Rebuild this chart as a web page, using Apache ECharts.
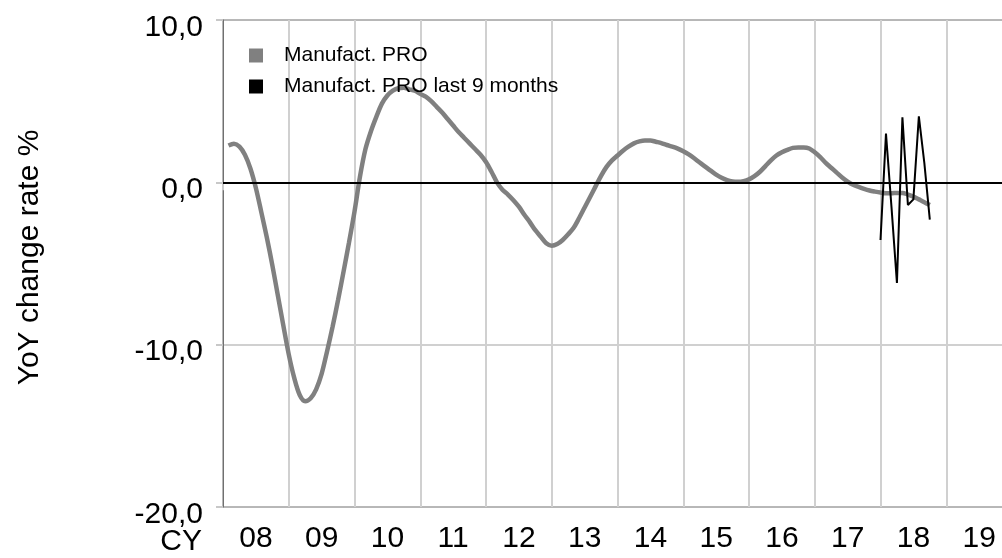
<!DOCTYPE html>
<html>
<head>
<meta charset="utf-8">
<script src="https://cdn.jsdelivr.net/npm/echarts@6/dist/echarts.min.js"></script>
<style>html,body{margin:0;padding:0;background:#fff}#c{width:1002px;height:558px}</style>
</head>
<body>
<div id="c"></div>
<script>
// Year categories for the x axis (CY)
var years = ['08','09','10','11','12','13','14','15','16','17','18','19'];
var firstYear = 2008;
// Manufact. PRO, monthly YoY %, from Feb 2008 (month index 1) to Oct 2018
var proStartMonth = 1;
var proValues = [
  2.27, 2.38, 2.2, 1.7, 0.85, -0.35, -1.85, -3.4, -5.1, -6.95, -8.8,
  -10.6, -12.05, -13.1, -13.48, -13.3, -12.75, -11.8, -10.4, -8.9, -7.25, -5.5, -3.7,
  -1.8, 0.35, 2.05, 3.15, 4.05, 4.85, 5.35, 5.65, 5.8, 5.82, 5.73, 5.65,
  5.45, 5.28, 5.0, 4.65, 4.3, 3.9, 3.5, 3.1, 2.75, 2.4, 2.05, 1.7,
  1.25, 0.65, 0.0, -0.45, -0.75, -1.1, -1.5, -2.0, -2.45, -2.95, -3.35, -3.75,
  -3.9, -3.8, -3.55, -3.2, -2.8, -2.2, -1.55, -0.9, -0.25, 0.4, 0.95, 1.35,
  1.65, 1.95, 2.2, 2.4, 2.52, 2.58, 2.58, 2.5, 2.42, 2.3, 2.2, 2.08,
  1.92, 1.72, 1.48, 1.22, 0.97, 0.72, 0.48, 0.28, 0.13, 0.05, 0.03, 0.07,
  0.18, 0.38, 0.65, 1.0, 1.35, 1.65, 1.85, 2.0, 2.12, 2.15, 2.15, 2.08,
  1.85, 1.55, 1.2, 0.9, 0.6, 0.3, 0.05, -0.15, -0.28, -0.4, -0.5, -0.57,
  -0.63, -0.67, -0.67, -0.65, -0.65, -0.75, -0.88, -1.05, -1.22, -1.4
];
// Manufact. PRO last months, monthly, from Jan 2018 (month index 120)
var lastStartMonth = 120;
var lastValues = [-3.55, 3.0, -1.5, -6.2, 4.0, -1.4, -1.05, 4.07, 1.2, -2.3];
var yTicks = [-20, -10, 0, 10];

function toPairs(start, vals) {
  return vals.map(function (v, i) { return [firstYear + (start + i) / 12, v]; });
}
var FONT = 'Liberation Sans, Arial, sans-serif';
var chart = echarts.init(document.getElementById('c'), null, {renderer: 'canvas'});
chart.setOption({
  animation: false,
  backgroundColor: '#fff',
  textStyle: {fontFamily: FONT},
  grid: {left: 223, top: 20, height: 487, width: 789, outerBoundsMode: 'none', show: true, borderColor: '#707070', borderWidth: 1, containLabel: false},
  legend: {
    orient: 'vertical', left: 244, top: 40, itemWidth: 14, itemHeight: 14, itemGap: 10,
    icon: 'rect',
    textStyle: {fontSize: 21, color: '#000', fontFamily: FONT, padding: [0, 0, 0, 16]},
    data: ['Manufact. PRO', 'Manufact. PRO last 9 months']
  },
  xAxis: [{
    type: 'category', data: years, boundaryGap: true, position: 'bottom',
    axisLine: {show: true, lineStyle: {color: '#000', width: 1.5}},
    axisTick: {show: true, length: 8, lineStyle: {color: '#cccccc', width: 2}},
    axisLabel: {fontSize: 30, color: '#000', margin: 17, fontFamily: FONT},
    splitLine: {show: true, showMinLine: false, lineStyle: {color: '#d0d0d0', width: 2}}
  }, {
    type: 'value', min: firstYear, max: firstYear + years.length, show: false
  }],
  yAxis: {
    type: 'value', min: yTicks[0], max: yTicks[yTicks.length - 1], interval: 10,
    name: 'YoY change rate %', nameLocation: 'middle', nameRotate: 90, nameGap: 178,
    nameTextStyle: {fontSize: 30, color: '#000', fontFamily: FONT, padding: [0, 0, 0, 12]},
    axisLine: {show: true, lineStyle: {color: '#707070', width: 1}},
    axisTick: {show: true, length: 7, lineStyle: {color: '#c8c8c8', width: 2}},
    axisLabel: {color: '#000', margin: 20,
      formatter: function (v) { return '{a|' + v.toFixed(1).replace('.', ',') + '}'; },
      rich: {a: {fontSize: 30, color: '#000', fontFamily: FONT, padding: [15, 0, 0, 0]}}},
    splitLine: {show: true, showMinLine: false, showMaxLine: false, lineStyle: {color: '#d0d0d0', width: 2}}
  },
  graphic: [{type: 'text', x: 202, y: 542, style: {text: 'CY', font: '30px ' + FONT, fill: '#000', textAlign: 'right', textVerticalAlign: 'middle'}}],
  series: [{
    type: 'line', name: 'zero', xAxisIndex: 1, data: [], z: 1, silent: true,
    markLine: {silent: true, symbol: ['none', 'none'], label: {show: false},
      lineStyle: {color: '#000', width: 2, type: 'solid'}, data: [{yAxis: 0}]}
  }, {
    type: 'line', name: 'Manufact. PRO', xAxisIndex: 1, data: toPairs(proStartMonth, proValues),
    smooth: 0.3, showSymbol: false, symbol: 'none', z: 3,
    itemStyle: {color: '#808080'}, lineStyle: {color: '#808080', width: 4.5}
  }, {
    type: 'line', name: 'Manufact. PRO last 9 months', xAxisIndex: 1, data: toPairs(lastStartMonth, lastValues),
    showSymbol: false, symbol: 'none', z: 4,
    itemStyle: {color: '#000'}, lineStyle: {color: '#000', width: 2}
  }]
});
</script>
</body>
</html>
